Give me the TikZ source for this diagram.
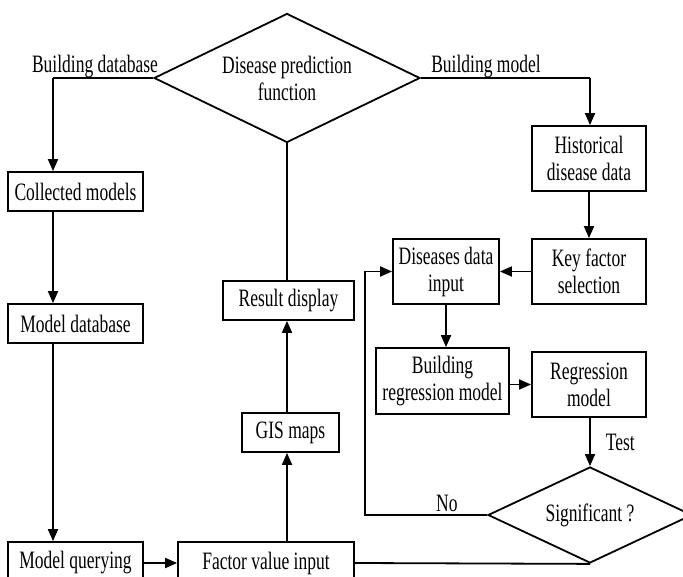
\documentclass[tikz,border=0pt]{standalone}
\usepackage{fontspec}
\setmainfont{Liberation Serif}[FakeStretch=0.7]
\usetikzlibrary{shapes.geometric,arrows.meta}

\begin{document}
\begin{tikzpicture}[x=1pt,y=-1pt,font=\fontsize{25}{27}\selectfont, line width=1.8pt, >={Triangle[length=12pt,width=10pt]}]
    \tikzstyle{box node}=[rectangle,draw,inner sep=0,align=center]
    \tikzstyle{decision node}=[diamond,draw,inner sep=0,align=center]
    \tikzstyle{edge label}=[inner sep=2pt]

    \clip (0,0) rectangle (683,577);

    % decisions
    \node(dp)[decision node,aspect=2,minimum width=266,minimum height=129] at (287,78) {Disease prediction\\function};
    \node(sig)[decision node,aspect=2.1,minimum width=204,minimum height=96] at (590,515) {Significant ?};

    % database side
    \node(cm)[box node,minimum width=135,minimum height=39] at (75.5,191.5) {Collected models};
    \node(md)[box node,minimum width=135,minimum height=39] at (75.5,323.5) {Model database};
    \node(mq)[box node,minimum width=135,minimum height=42] at (75.5,563) {Model querying};
    \node(fv)[box node,minimum width=176,minimum height=42] at (266,563) {Factor value input};
    \node(gis)[box node,minimum width=97,minimum height=39] at (290.5,432.5) {GIS maps};
    \node(rd)[box node,minimum width=131,minimum height=39] at (288.5,300.5) {Result display};

    % model side
    \node(hd)[box node,minimum width=114,minimum height=65] at (589,158.5) {Historical\\disease data};
    \node(kf)[box node,minimum width=114,minimum height=65] at (589,271.5) {Key factor\\selection};
    \node(di)[box node,minimum width=106,minimum height=65] at (446,271.5) {Diseases data\\input};
    \node(br)[box node,minimum width=133,minimum height=66] at (442.5,381) {Building\\regression model};
    \node(rm)[box node,minimum width=114,minimum height=65] at (589,384.5) {Regression\\model};

    \coordinate(lx) at (53,78);
    \coordinate(rx) at (590,78);
    \coordinate(nc) at (365,515);

    \node(bdb)[edge label] at (95,67) {Building database};
    \node(bmo)[edge label] at (486,67) {Building model};

    \draw(dp.west)--(lx);
    \draw[->](lx)--(lx |- cm.north);
    \draw[->](lx |- cm.south)--(lx |- md.north);
    \draw[->](lx |- md.south)--(lx |- mq.north);
    \draw[->](mq.east)--(fv.west);
    \draw[->](dp.south |- fv.north)--(dp.south |- gis.south);
    \draw[->](dp.south |- gis.north)--(dp.south |- rd.south);
    \draw(dp.south |- rd.north)--(dp.south);
    \draw(fv.east)--(sig.south);

    \draw(dp.east)--(rx);
    \draw[->](rx)--(rx |- hd.north);
    \draw[->](hd.south)--(kf.north);
    \draw[->](kf.west)--(di.east);
    \draw[->](di.south)--(di.south |- br.north);
    \draw[->](rm.west -| br.east)--(rm.west);
    \draw[->](sig.north |- rm.south)--(sig.north) node[edge label,midway,right,xshift=13]{Test};
    \draw[->](sig.west)--node[edge label,pos=0.33,above]{No}(nc) |- (di.west);
\end{tikzpicture}
\end{document}
